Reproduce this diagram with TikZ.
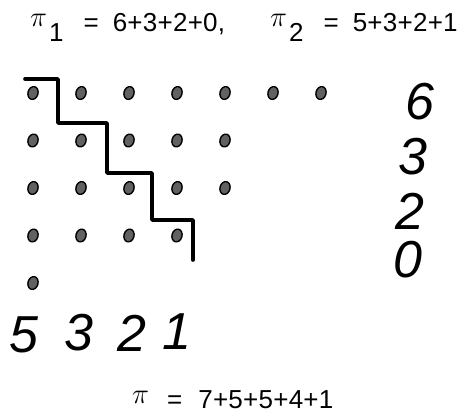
\documentclass[tikz,border=0pt]{standalone}
\usepackage{fontspec}
\usepackage{tikz}
\usetikzlibrary{positioning,shapes.geometric}
\newfontfamily\typefont{Liberation Sans}[LetterSpace=1]
\newfontfamily\handfont{Liberation Sans}
\newcommand{\pisym}{\raisebox{5pt}{\scalebox{1.15}{$\pi$}}}
\newcommand{\pisub}[1]{\raisebox{-10pt}{#1}}

\begin{document}
\begin{tikzpicture}[
    x=1pt, y=-1pt,
    dot/.style={
      ellipse, draw=black, line width=1.4pt, fill=black!62,
      minimum width=10pt, minimum height=13pt, inner sep=0pt,
      rotate=-15
    },
    stair/.style={line width=3.6pt, line join=round, line cap=round},
    hand/.style={
      font=\fontsize{52}{54}\handfont\itshape, inner sep=0pt
    },
    eqn/.style={
      font=\fontsize{26}{28}\typefont, inner sep=0pt, anchor=base west
    }
  ]
  \useasboundingbox (0,0) rectangle (465,412);

  % Equations
  \node[eqn] (pione) at (30,31)
    {\pisym\kern2pt\pisub{1}\hspace{20pt}=\hspace{14pt}6+3+2+0,};
  \node[eqn] (pitwo) at (270,31)
    {\pisym\kern2pt\pisub{2}\hspace{20pt}=\hspace{14pt}5+3+2+1};
  \node[eqn] (pisum) at (132,408)
    {\pisym\hspace{18pt}=\hspace{16pt}7+5+5+4+1};

  % Dot diagram rows of 7, 5, 5, 4, 1
  \foreach \n [count=\r from 0] in {7,5,5,4,1} {
    \foreach \c in {1,...,\n} {
      \node[dot] (d-\r-\c) at ({33+48*(\c-1)},{93+47.5*\r}) {};
    }
  }

  % Staircase
  \draw[stair] (25,79) -- (58,79) -- (58,123) -- (107,123) -- (107,173)
    -- (152,173) -- (152,220) -- (193,220) -- (193,260);

  % Row counts
  \node[hand] (r1) at (420,102) {6};
  \node[hand] (r2) at (413,157) {3};
  \node[hand] (r3) at (410,211) {2};
  \node[hand] (r4) at (408,260) {0};

  % Column counts
  \node[hand] (c1) at (24,335) {5};
  \node[hand] (c2) at (79,333) {3};
  \node[hand] (c3) at (132,333) {2};
  \node[hand] (c4) at (177,332) {1};
\end{tikzpicture}
\end{document}
